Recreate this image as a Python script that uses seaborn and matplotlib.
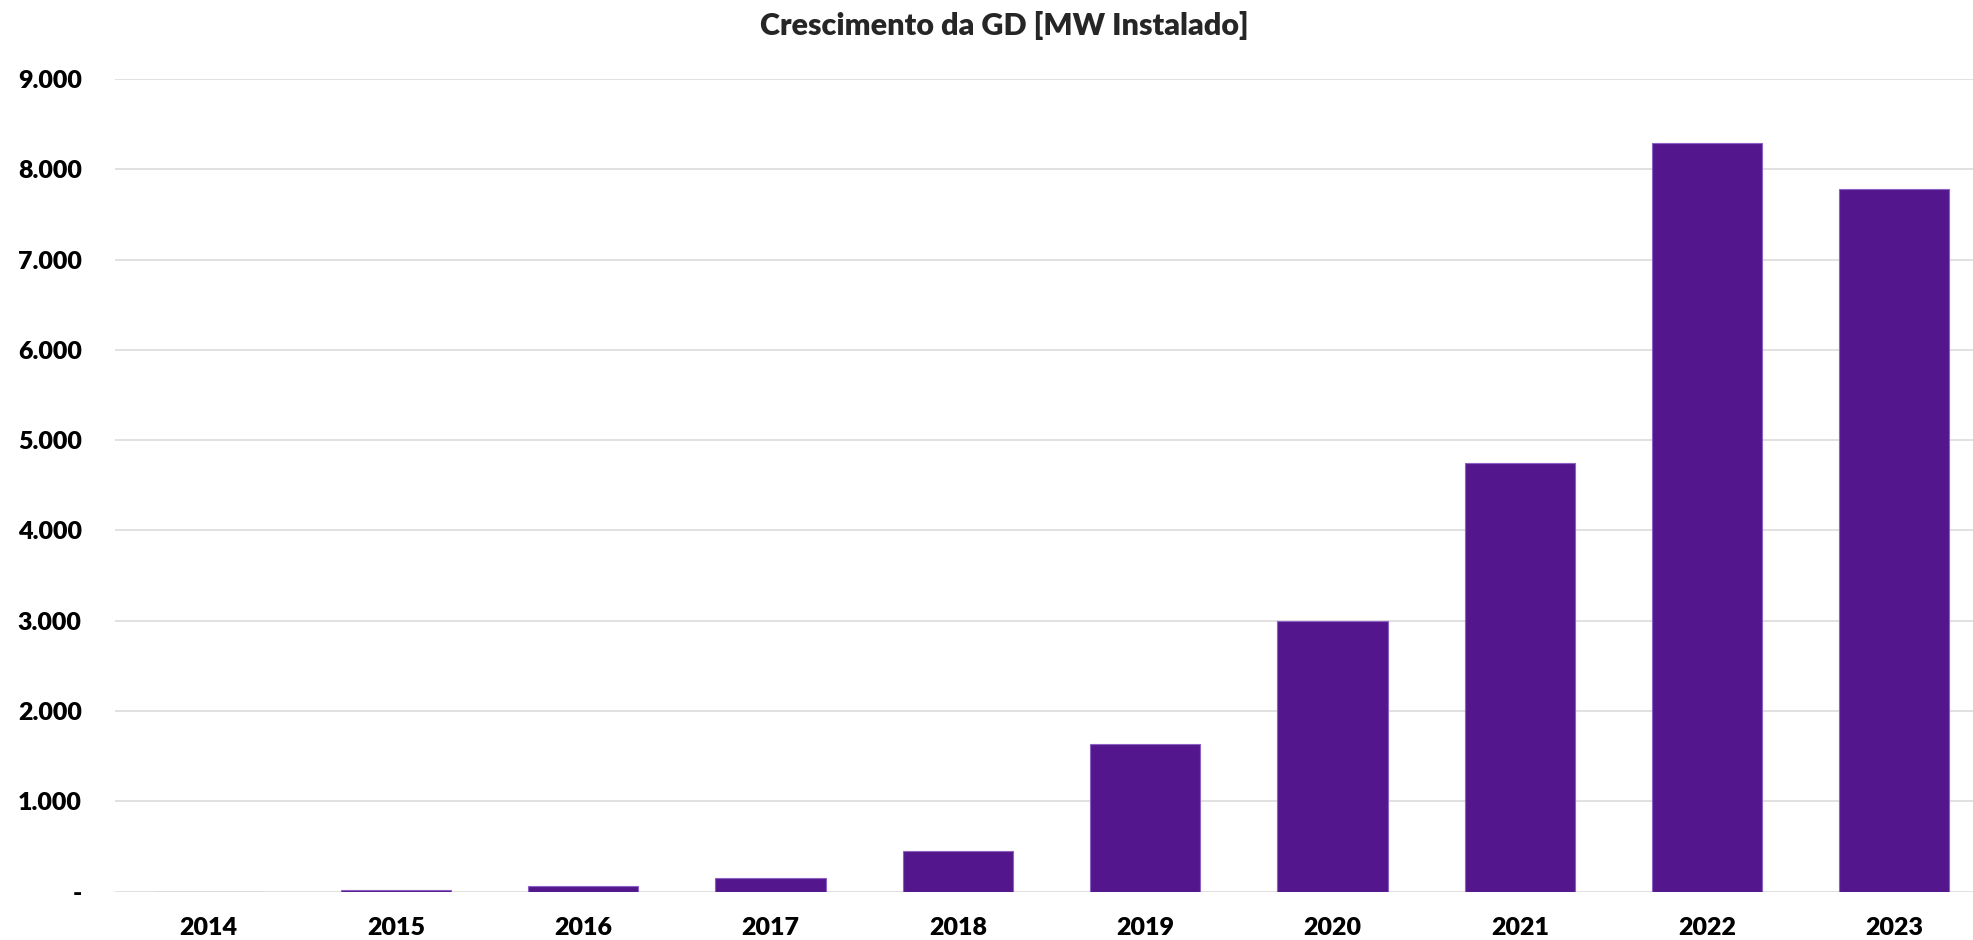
import pandas as pd
import matplotlib.pyplot as plt
import seaborn as sns

# dados
anos = ['2014', '2015', '2016', '2017', '2018', '2019', '2020', '2021', '2022', '2023']
mw_instalado = [1, 18, 66, 155, 453, 1632, 2995, 4742, 8295, 7782]
y_ticks = [0, 1000, 2000, 3000, 4000, 5000, 6000, 7000, 8000, 9000]

df = pd.DataFrame({'Ano': anos, 'MW': mw_instalado})

sns.set_style("white")
plt.rcParams['font.family'] = ['Lato', 'DejaVu Sans']

fig = plt.figure(figsize=(19.73, 9.40), dpi=100)
ax = fig.add_axes([0.0583, 0.0514, 0.9493, 0.8646])

sns.barplot(data=df, x='Ano', y='MW', ax=ax, color='#54168C',
            width=0.588, edgecolor='#8B62C4', linewidth=0.8, saturation=1)

ax.set_xlim(-0.5, len(anos) - 0.5)
ax.set_ylim(0, 9000)
ax.set_yticks(y_ticks)
ax.set_yticklabels(['-' if v == 0 else f"{v:,.0f}".replace(',', '.') for v in y_ticks])
ax.grid(axis='y', color='#D9D9D9', linewidth=1.1)
ax.set_axisbelow(True)
for s in ax.spines.values():
    s.set_visible(False)

ax.tick_params(axis='y', length=0, pad=24, labelsize=18, labelcolor='black')
ax.tick_params(axis='x', length=0, pad=18, labelsize=18, labelcolor='black')
for lbl in ax.get_xticklabels() + ax.get_yticklabels():
    lbl.set_fontweight('heavy')
ax.set_xlabel('')
ax.set_ylabel('')

fig.text(1004 / 1973, 1 - 25 / 940, 'Crescimento da GD [MW Instalado]',
         ha='center', va='center', fontsize=22, fontweight='heavy')

fig.savefig('out.png', dpi=100)
